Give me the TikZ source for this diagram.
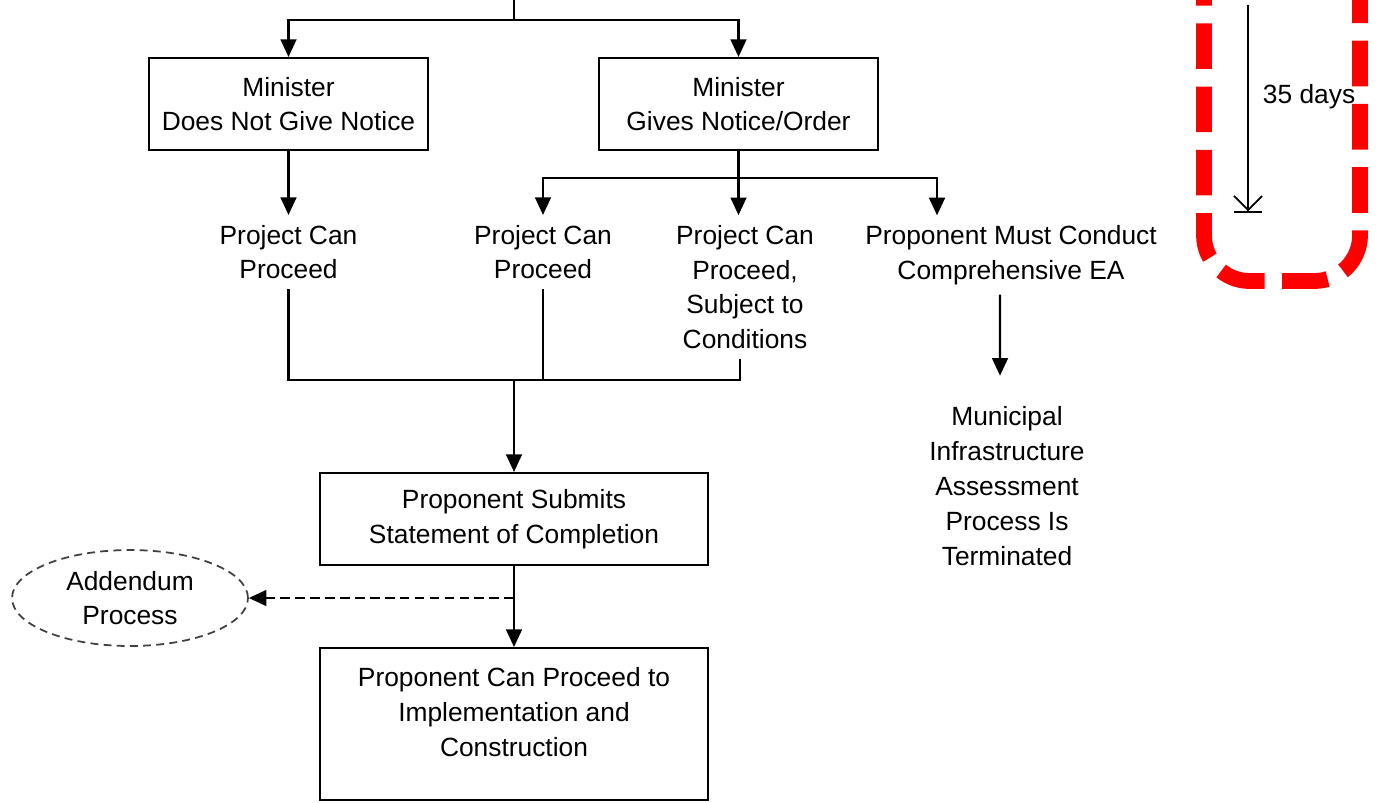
\documentclass[tikz,border=0pt]{standalone}
\usepackage{fontspec}
\setmainfont{Liberation Sans}
\usetikzlibrary{arrows.meta,shapes.geometric}
\begin{document}
\begin{tikzpicture}[x=0.02cm,y=-0.02cm,
  font=\fontsize{15}{19.8}\selectfont,
  box/.style={draw,line width=1.2pt,align=center,minimum width=5.58cm,minimum height=1.84cm},
  wide/.style={box,minimum width=7.76cm},
  txt/.style={align=center,inner sep=5.5pt},
  link/.style={line width=1.2pt},
  arr/.style={link,-{Triangle[length=10pt,width=9pt]}},
  window/.style={red,line width=9pt,dash pattern=on 26pt off 10pt,rounded corners=26pt}]
\useasboundingbox (0,0) rectangle (1381,802);
% top of the tree
\coordinate (top) at (514,-10);
\coordinate (split) at (514,20);
\node[box] (nonotice) at (288.5,104) {Minister\\Does Not Give Notice};
\node[box] (notice) at (738.5,104) {Minister\\Gives Notice/Order};
\draw[link] (top) -- (split);
\draw[arr] (split) -| (nonotice);
\draw[arr] (split) -| (notice);
% outcomes
\node[txt] (proceeda) at (288.5,252) {Project Can\\Proceed};
\node[txt] (proceedb) at (543,252) {Project Can\\Proceed};
\node[txt] (cond) at (745,287) {Project Can\\Proceed,\\Subject to\\Conditions};
\node[txt] (ea) at (1011,255) {Proponent Must Conduct\\Comprehensive EA};
\node[txt] (stop) at (1007,486) {Municipal\\Infrastructure\\Assessment\\Process Is\\Terminated};
\coordinate (split2) at (738.5,178);
\draw[arr] (nonotice) -- (proceeda);
\draw[link] (notice) -- (split2);
\draw[arr] (split2) -| (proceedb);
\draw[arr] (split2) -- (split2 |- cond.north);
\draw[arr] (split2) -| ([xshift=-1.48cm]ea.north);
\draw[arr,shorten >=12pt] ([xshift=-0.22cm]ea.south) -- ([xshift=-0.14cm]stop.north);
% merge and completion
\coordinate (merge) at (514,380);
\coordinate (tap) at (514,598);
\node[wide] (submit) at (514,519) {Proponent Submits\\Statement of Completion};
\node[wide,minimum height=3.04cm] (build) at (514,724) {Proponent Can Proceed to\\Implementation and\\Construction\\[-6pt]\mbox{}};
\node[draw=black!75,ellipse,line width=1pt,dash pattern=on 4.5pt off 3pt,align=center,
  minimum width=4.72cm,minimum height=1.92cm,inner sep=0pt,text depth=-4pt] (addendum) at (130,598) {Addendum\\Process};
\draw[link] (proceeda) |- (merge);
\draw[link] (proceedb) -- (proceedb |- merge);
\draw[link] ([xshift=-0.1cm]cond.south) |- (merge);
\draw[arr] (merge) -- (submit);
\draw[arr] (submit) -- (build);
\draw[arr,dash pattern=on 5.5pt off 3pt] (tap) -- (addendum);
% 35 days window
\draw[window] (1204,-40) |- (1360,281) -- (1360,-40);
\coordinate (clock) at (1248,5);
\coordinate (due) at (1248,213);
\draw[line width=1pt,-{Straight Barb[length=8pt,width=16pt,sep=0pt]Bar[width=16pt]}] (clock) -- node[pos=0.44,right,inner sep=8pt] (days) {35 days} (due);
\end{tikzpicture}
\end{document}
